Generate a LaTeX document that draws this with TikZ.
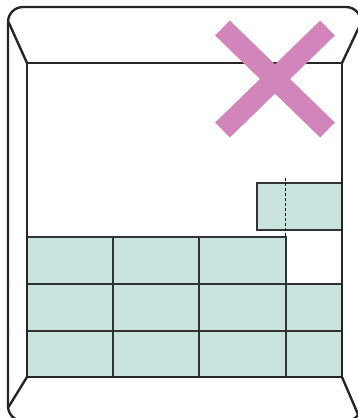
\documentclass[tikz,border=0pt]{standalone}
\definecolor{tilecol}{RGB}{201,227,223}
\definecolor{pinkx}{RGB}{210,133,186}
\tikzset{
  tilebox/.style={fill=tilecol, draw=black!80, line width=1.1pt},
  frameline/.style={draw=black!85, line width=2.2pt, line join=miter},
  outerline/.style={draw=black!85, line width=2.4pt},
  crossbar/.style={draw=pinkx, line width=21pt, line cap=butt}
}
\begin{document}
\begin{tikzpicture}[x=1pt,y=-1pt]
\useasboundingbox (0,0) rectangle (358,418);
\begin{scope}
\clip (0,0) rectangle (358,418);
% tiles
\foreach \xa/\xb in {27/113,113/199,199/286}{
  \draw[tilebox] (\xa,237) rectangle (\xb,284);
}
\foreach \ya/\yb in {284/331,331/377}{
  \foreach \xa/\xb in {27/113,113/199,199/286,286/342}{
    \draw[tilebox] (\xa,\ya) rectangle (\xb,\yb);
  }
}
\draw[tilebox] (257,183) rectangle (342,230);
\draw[black, line width=0.8pt, dash pattern=on 3pt off 2pt] (285,178) -- (285,237);
% inner frame
\draw[frameline] (27,63) -- (342,63) -- (342,377) -- (27,377) -- cycle;
% outer frame (right and bottom edges fall outside the picture)
\draw[outerline, rounded corners=15pt] (8,7) rectangle (361,421);
\draw[outerline] (27,63) -- (8.5,22);
\draw[outerline] (342,63) -- (360,25);
\draw[outerline] (27,377) -- (8.5,407);
\draw[outerline] (342,377) -- (360,419);
% cross
\draw[crossbar] (222.5,28) -- (327.5,130);
\draw[crossbar] (327.5,28) -- (222.5,130);
\end{scope}
\end{tikzpicture}
\end{document}
